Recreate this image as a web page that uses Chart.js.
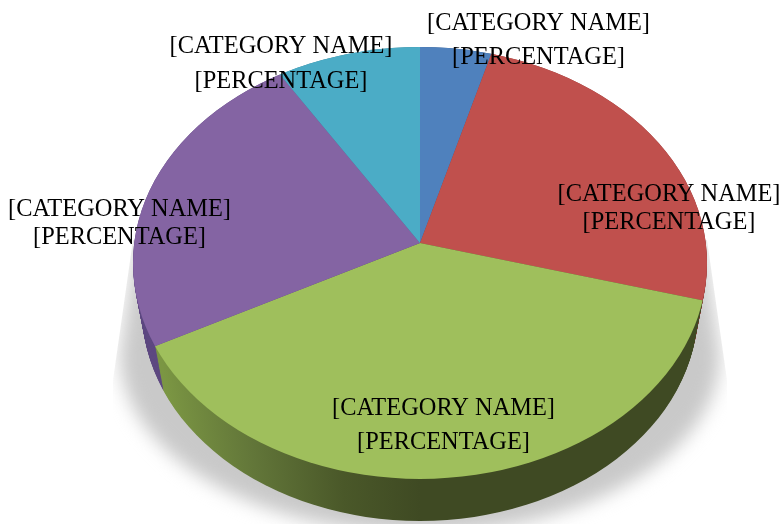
<!DOCTYPE html>
<html>
<head>
<meta charset="utf-8">
<script src="https://cdn.jsdelivr.net/npm/chart.js@4/dist/chart.umd.min.js"></script>
<style>
  html, body { margin: 0; padding: 0; background: #fff; }
  canvas { display: block; }
</style>
</head>
<body>
<canvas id="pie" width="782" height="524"></canvas>
<script>
const categories = ['[CATEGORY NAME]', '[CATEGORY NAME]', '[CATEGORY NAME]', '[CATEGORY NAME]', '[CATEGORY NAME]'];
const percentLabels = ['[PERCENTAGE]', '[PERCENTAGE]', '[PERCENTAGE]', '[PERCENTAGE]', '[PERCENTAGE]'];
const values = [4.4, 24.8, 38.2, 23.7, 8.9];
const colors = ['#4f81bd', '#c0504d', '#9fbf5c', '#8464a3', '#4bacc6'];
const wallColors = ['#3a5f8c', '#8e3b39', null, '#5f4a80', '#387f93'];

// label centres, [name y, percentage y]
const labelSpots = [
  { x: 538.5, y: [24, 58] },
  { x: 669, y: [195, 223] },
  { x: 443.5, y: [409, 443] },
  { x: 119.5, y: [210, 238] },
  { x: 281, y: [47, 82] }
];

// the pie is a tilted disc: the top face is an ellipse with the apex above its centre
const apex = { x: 420, y: 243 };
const topFace = { cy: 263, rx: 287, ry: 216 };
const bottomFace = { cy: 309, rx: 278, ry: 212 };

function tiltTo(ctx, face) {
  ctx.beginPath();
  ctx.ellipse(apex.x, face.cy, face.rx, face.ry, 0, 0, Math.PI * 2);
  ctx.clip();
  ctx.translate(apex.x, face.cy - (topFace.cy - apex.y));
  ctx.scale(face.rx / topFace.rx, face.ry / topFace.rx);
  ctx.translate(-apex.x, -apex.y);
}

function drawShadow(ctx) {
  ctx.save();
  // sharp outer limit up the sides, the blur does the rest
  ctx.beginPath();
  ctx.moveTo(133, 240);
  ctx.lineTo(113, 380);
  ctx.lineTo(113, 524);
  ctx.lineTo(727, 524);
  ctx.lineTo(727, 380);
  ctx.lineTo(707, 240);
  ctx.closePath();
  ctx.clip();

  ctx.fillStyle = '#c9c9c9';
  ctx.filter = 'blur(9px)';
  ctx.beginPath();
  ctx.moveTo(139, 220);
  ctx.lineTo(120, 355);
  ctx.ellipse(420, 355, 300, 178, 0, Math.PI, 0, true);
  ctx.lineTo(701, 220);
  ctx.closePath();
  ctx.fill();
  ctx.restore();
}

function drawWalls(chart) {
  const ctx = chart.ctx;
  const arcs = chart.getDatasetMeta(0).data;

  const greenWall = ctx.createLinearGradient(160, 0, 420, 0);
  greenWall.addColorStop(0, '#7b9643');
  greenWall.addColorStop(0.35, '#627639');
  greenWall.addColorStop(0.7, '#4a5829');
  greenWall.addColorStop(1, '#3f4a23');

  const steps = bottomFace.cy - topFace.cy;
  for (let i = steps; i >= 0; i--) {
    const t = i / steps;
    const face = {
      cy: topFace.cy + (bottomFace.cy - topFace.cy) * t,
      rx: topFace.rx + (bottomFace.rx - topFace.rx) * t,
      ry: topFace.ry + (bottomFace.ry - topFace.ry) * t
    };
    ctx.save();
    tiltTo(ctx, face);
    arcs.forEach((arc, idx) => {
      const saved = arc.options;
      arc.options = { ...saved, backgroundColor: wallColors[idx] || greenWall };
      arc.draw(ctx);
      arc.options = saved;
    });
    ctx.restore();
  }
}

const tiltedPie = {
  id: 'tiltedPie',
  beforeDatasetsDraw(chart) {
    drawShadow(chart.ctx);
    drawWalls(chart);
    chart.ctx.save();
    tiltTo(chart.ctx, topFace);
  },
  afterDatasetsDraw(chart) {
    const ctx = chart.ctx;
    ctx.restore();

    ctx.save();
    ctx.fillStyle = '#000';
    ctx.font = '24.4px "Liberation Serif"';
    ctx.textAlign = 'center';
    ctx.textBaseline = 'middle';
    labelSpots.forEach((spot, idx) => {
      ctx.fillText(categories[idx], spot.x, spot.y[0]);
      ctx.fillText(percentLabels[idx], spot.x, spot.y[1]);
    });
    ctx.restore();
  }
};

new Chart(document.getElementById('pie').getContext('2d'), {
  type: 'pie',
  data: {
    labels: categories,
    datasets: [{
      data: values,
      backgroundColor: colors,
      borderWidth: 0,
      clip: false
    }]
  },
  options: {
    responsive: false,
    animation: false,
    events: [],
    radius: 345,
    layout: { padding: { left: 58, bottom: 38 } },
    plugins: {
      legend: { display: false },
      tooltip: { enabled: false }
    }
  },
  plugins: [tiltedPie]
});
</script>
</body>
</html>
